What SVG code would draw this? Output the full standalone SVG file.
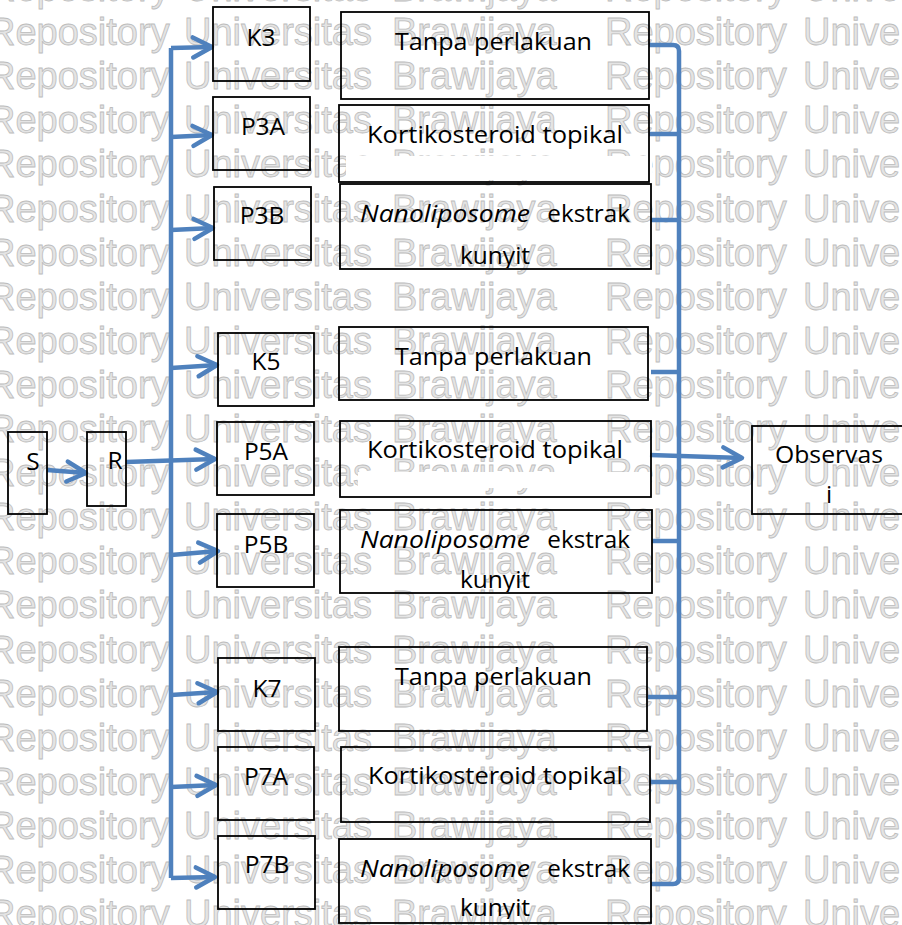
<svg xmlns="http://www.w3.org/2000/svg" xmlns:xlink="http://www.w3.org/1999/xlink" width="902" height="925" viewBox="0 0 902 925">
<style>
.wm{font-family:"Liberation Sans",Arial,sans-serif;font-size:38px;fill:#e4e4e4;stroke:#bdbdbd;stroke-width:0.8}
.box{fill:none;stroke:#000;stroke-width:1.8}
.t{font-family:"Open Sans","Liberation Sans",sans-serif;font-size:24.5px;fill:#000}
.c{text-anchor:middle}
.ln{fill:none;stroke:#4F81BD;stroke-width:4.5;stroke-linejoin:round}
.patch{fill:#fff;stroke:none}
</style>
<defs>
<marker id="arr" markerUnits="userSpaceOnUse" viewBox="-24 -14 28 28" refX="0" refY="0" markerWidth="28" markerHeight="28" orient="auto">
<path d="M-19,-10 L0,0 L-19,10" fill="none" stroke="#4F81BD" stroke-width="4.5" stroke-linecap="round" stroke-linejoin="round"/>
</marker>
<g id="wmrow"><text class="wm"><tspan x="-12">Repository</tspan><tspan x="184">Universitas</tspan><tspan x="392">Brawijaya</tspan><tspan x="605">Repository</tspan><tspan x="803">Universitas</tspan></text></g>
<clipPath id="cN3"><rect x="340" y="184" width="311" height="84"/></clipPath>
<clipPath id="cN5"><rect x="340" y="510" width="312" height="82"/></clipPath>
<clipPath id="cN7"><rect x="339" y="839" width="312" height="80"/></clipPath>
</defs>
<rect width="902" height="925" fill="#fff"/>
<g id="watermark">
<use xlink:href="#wmrow" y="1"/><use xlink:href="#wmrow" y="45"/><use xlink:href="#wmrow" y="89.2"/><use xlink:href="#wmrow" y="133.3"/><use xlink:href="#wmrow" y="177.4"/><use xlink:href="#wmrow" y="221.5"/><use xlink:href="#wmrow" y="265.6"/><use xlink:href="#wmrow" y="309.7"/><use xlink:href="#wmrow" y="353.8"/><use xlink:href="#wmrow" y="397.9"/><use xlink:href="#wmrow" y="442"/><use xlink:href="#wmrow" y="486.1"/><use xlink:href="#wmrow" y="530.2"/><use xlink:href="#wmrow" y="574.3"/><use xlink:href="#wmrow" y="618.4"/><use xlink:href="#wmrow" y="662.5"/><use xlink:href="#wmrow" y="706.6"/><use xlink:href="#wmrow" y="750.7"/><use xlink:href="#wmrow" y="794.8"/><use xlink:href="#wmrow" y="838.9"/><use xlink:href="#wmrow" y="883"/><use xlink:href="#wmrow" y="927.1"/>
</g>
<g id="patches">
<rect class="patch" x="346" y="156" width="306" height="24"/>
<rect class="patch" x="358" y="472" width="293" height="16"/>
</g>
<g id="connectors">
<path class="ln" d="M47,470 L86,473" marker-end="url(#arr)"/>
<path class="ln" d="M126,462 L215,459" marker-end="url(#arr)"/>
<path class="ln" d="M171,48 L171,878"/>
<path class="ln" d="M171,48 L212,47" marker-end="url(#arr)"/>
<path class="ln" d="M171,137 L212,135" marker-end="url(#arr)"/>
<path class="ln" d="M171,230 L213,228" marker-end="url(#arr)"/>
<path class="ln" d="M171,368 L217,365" marker-end="url(#arr)"/>
<path class="ln" d="M171,555 L218,551" marker-end="url(#arr)"/>
<path class="ln" d="M171,695 L217,692" marker-end="url(#arr)"/>
<path class="ln" d="M171,787 L216,785" marker-end="url(#arr)"/>
<path class="ln" d="M171,878 L215,877" marker-end="url(#arr)"/>
<path class="ln" d="M649,45 L673,45 Q679,45 679,51 L679,878 Q679,884 673,884 L651,884"/>
<path class="ln" d="M649,134 L679,134"/>
<path class="ln" d="M651,220 L679,220"/>
<path class="ln" d="M651,372 L679,372"/>
<path class="ln" d="M652,541 L679,541"/>
<path class="ln" d="M648,697 L679,697"/>
<path class="ln" d="M650,782 L679,782"/>
<path class="ln" d="M650,455 L742,458" marker-end="url(#arr)"/>
</g>
<g id="S"><rect class="box" x="8" y="432" width="39" height="82"/><text class="t c" x="33" y="470">S</text></g>
<g id="R"><rect class="box" x="87" y="432" width="39" height="74"/><text class="t c" x="115" y="469">R</text></g>
<g id="K3"><rect class="box" x="213" y="7" width="97" height="74"/><text class="t c" x="261" y="46">K3</text></g>
<g id="P3A"><rect class="box" x="213" y="97" width="97" height="73"/><text class="t c" x="263" y="135">P3A</text></g>
<g id="P3B"><rect class="box" x="214" y="187" width="97" height="73"/><text class="t c" x="262" y="224">P3B</text></g>
<g id="K5"><rect class="box" x="218" y="333" width="96" height="73"/><text class="t c" x="266" y="370">K5</text></g>
<g id="P5A"><rect class="box" x="217" y="422" width="97" height="73"/><text class="t c" x="266" y="460">P5A</text></g>
<g id="P5B"><rect class="box" x="217" y="514" width="97" height="73"/><text class="t c" x="266" y="553">P5B</text></g>
<g id="K7"><rect class="box" x="218" y="658" width="97" height="73"/><text class="t c" x="267" y="697">K7</text></g>
<g id="P7A"><rect class="box" x="218" y="747" width="96" height="73"/><text class="t c" x="266" y="785">P7A</text></g>
<g id="P7B"><rect class="box" x="218" y="836" width="97" height="73"/><text class="t c" x="267" y="873">P7B</text></g>
<g id="T3"><rect class="box" x="341" y="12" width="308" height="87"/><text class="t" x="395" y="50" textLength="197" lengthAdjust="spacingAndGlyphs">Tanpa perlakuan</text></g>
<g id="KT3"><rect class="box" x="339" y="105" width="310" height="77"/><text class="t" x="367" y="143" textLength="256" lengthAdjust="spacingAndGlyphs">Kortikosteroid topikal</text></g>
<g id="N3"><rect class="box" x="340" y="184" width="311" height="85"/><text class="t" y="222"><tspan x="360" font-style="italic" textLength="170" lengthAdjust="spacingAndGlyphs">Nanoliposome</tspan><tspan x="541" textLength="89" lengthAdjust="spacingAndGlyphs"> ekstrak</tspan></text><text class="t c" x="495" y="264" clip-path="url(#cN3)">kunyit</text></g>
<g id="T5"><rect class="box" x="339" y="327" width="309" height="73"/><text class="t" x="395" y="365" textLength="197" lengthAdjust="spacingAndGlyphs">Tanpa perlakuan</text></g>
<g id="KT5"><rect class="box" x="340" y="421" width="311" height="76"/><text class="t" x="367" y="458" textLength="256" lengthAdjust="spacingAndGlyphs">Kortikosteroid topikal</text></g>
<g id="N5"><rect class="box" x="340" y="510" width="312" height="83"/><text class="t" y="548"><tspan x="360" font-style="italic" textLength="170" lengthAdjust="spacingAndGlyphs">Nanoliposome</tspan><tspan x="541" textLength="89" lengthAdjust="spacingAndGlyphs"> ekstrak</tspan></text><text class="t c" x="495" y="588" clip-path="url(#cN5)">kunyit</text></g>
<g id="T7"><rect class="box" x="339" y="647" width="308" height="84"/><text class="t" x="395" y="685" textLength="197" lengthAdjust="spacingAndGlyphs">Tanpa perlakuan</text></g>
<g id="KT7"><rect class="box" x="341" y="747" width="309" height="75"/><text class="t" x="368" y="784" textLength="255" lengthAdjust="spacingAndGlyphs">Kortikosteroid topikal</text></g>
<g id="N7"><rect class="box" x="339" y="839" width="312" height="84"/><text class="t" y="877"><tspan x="360" font-style="italic" textLength="170" lengthAdjust="spacingAndGlyphs">Nanoliposome</tspan><tspan x="541" textLength="89" lengthAdjust="spacingAndGlyphs"> ekstrak</tspan></text><text class="t c" x="495" y="916" clip-path="url(#cN7)">kunyit</text></g>
<g id="Observasi"><rect class="box" x="752" y="426" width="160" height="88"/><text class="t" x="775" y="463" textLength="108" lengthAdjust="spacingAndGlyphs">Observas</text><text class="t c" x="829" y="503">i</text></g>
</svg>
